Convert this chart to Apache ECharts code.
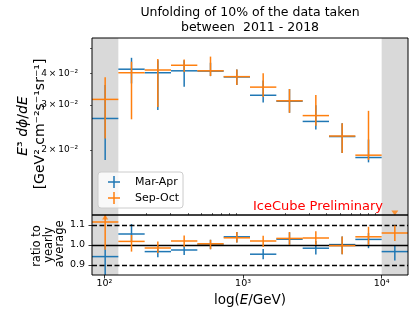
<!DOCTYPE html>
<html><head><meta charset="utf-8">
<script src="https://cdn.jsdelivr.net/npm/echarts@6.0.0/dist/echarts.min.js"></script>
<style>html,body{margin:0;padding:0;background:#fff}#c{width:415px;height:316px}</style>
</head><body><div id="c"></div>
<script>
// ---- data ----
const binLogEdges = [1.91, 2.10, 2.29, 2.48, 2.67, 2.86, 3.05, 3.24, 3.43, 3.62, 3.81, 4.00, 4.19]; // log10(E/GeV)
// E^3 dphi/dE  [GeV^2 cm^-2 s^-1 sr^-1]
const marApr   = [0.0266, 0.0415, 0.0402, 0.0409, 0.0408, 0.0387, 0.0328, 0.0311, 0.0259, 0.0226, 0.0187, null];
const marAprLo = [0.0183, 0.0365, 0.0287, 0.0354, 0.0390, 0.0360, 0.0307, 0.0280, 0.0241, 0.0195, 0.0179, null];
const marAprHi = [0.0360, 0.0460, 0.0450, 0.0450, 0.0440, 0.0414, 0.0375, 0.0347, 0.0300, 0.0255, 0.0220, null];
const sepOct   = [0.0316, 0.0402, 0.0412, 0.0430, 0.0409, 0.0388, 0.0353, 0.0312, 0.0273, 0.0227, 0.0191, null];
const sepOctLo = [0.0222, 0.0264, 0.0295, 0.0405, 0.0390, 0.0360, 0.0323, 0.0280, 0.0249, 0.0195, 0.0183, null];
const sepOctHi = [0.0386, 0.0444, 0.0455, 0.0453, 0.0465, 0.0414, 0.0400, 0.0347, 0.0329, 0.0255, 0.0285, null];
const sepOctLastFluxMarker = 0.01133;
// ratio to yearly average
const marAprRatio   = [0.942, 1.055, 0.967, 0.975, 1.003, 1.041, 0.954, 1.029, 0.984, 1.002, 1.028, 0.967];
const marAprRatioLo = [0.800, 1.020, 0.939, 0.950, 0.979, 1.013, 0.929, 1.001, 0.952, 0.954, 0.984, 0.922];
const marAprRatioHi = [1.000, 1.105, 1.000, 1.000, 1.026, 1.065, 0.980, 1.063, 1.020, 1.043, 1.060, 1.000];
const sepOctRatio   = [1.115, 1.018, 0.985, 1.020, 1.006, 1.036, 1.020, 1.033, 1.035, 0.997, 1.041, 1.060];
const sepOctRatioLo = [0.976, 0.967, 0.960, 0.990, 0.979, 1.013, 0.990, 1.001, 1.000, 0.954, 1.000, 1.020];
const sepOctRatioHi = [1.200, 1.050, 1.018, 1.047, 1.026, 1.065, 1.046, 1.065, 1.069, 1.043, 1.091, 1.097];
const sepOctUpArrowRatio = 1.14;
const refLines = [0.9, 1.0, 1.1];
// axes
const xMajorTicks = [100, 1000, 10000];
const xMajorLabels = ['10²', '10³', '10⁴'];
const xMinorTicks = [90, 200, 300, 400, 500, 600, 700, 800, 900, 2000, 3000, 4000, 5000, 6000, 7000, 8000, 9000];
const yTopRange = [0.01113, 0.0550];
const yTopTicks = [0.02, 0.03, 0.04, 0.05];
const yTopLabels = ['2\u2009×\u200910⁻²', '3\u2009×\u200910⁻²', '4\u2009×\u200910⁻²', ''];
const yBotRange = [0.85, 1.15];
const yBotTicks = [0.9, 1.0, 1.1];
const yBotLabels = ['0.9', '1.0', '1.1'];
const seriesNames = ['Mar-Apr', 'Sep-Oct'];
const colors = ['#1f77b4', '#ff7f0e'];

// ---- build ----
const FONT = 'DejaVu Sans';
const L = Math.log10;
const centers = binLogEdges.slice(0, -1).map((e, i) => (e + binLogEdges[i + 1]) / 2);
const xMin = binLogEdges[0], xMax = binLogEdges[binLogEdges.length - 1];
const topMin = L(yTopRange[0]), topMax = L(yTopRange[1]);

function buildErr(vals, lo, hi, tf, ymin, ymax) {
  const cl = v => Math.min(Math.max(tf(v), ymin), ymax);
  const out = [];
  vals.forEach((v, i) => {
    if (v == null) return;
    out.push([centers[i], binLogEdges[i], binLogEdges[i + 1], tf(v), cl(lo[i]), cl(hi[i])]);
  });
  return out;
}
function errSeries(name, color, data, gi, z) {
  return {
    name, type: 'custom', xAxisIndex: gi === 0 ? 0 : 1, yAxisIndex: gi, z,
    itemStyle: { color }, clip: true, silent: true,
    data,
    renderItem: (params, api) => {
      const xc = api.value(0), xl = api.value(1), xh = api.value(2);
      const y = api.value(3), yl = api.value(4), yh = api.value(5);
      const a = api.coord([xl, y]), b = api.coord([xh, y]);
      const t = api.coord([xc, yh]), d = api.coord([xc, yl]);
      const st = { stroke: color, lineWidth: 1.5, fill: null };
      return { type: 'group', children: [
        { type: 'line', shape: { x1: a[0], y1: a[1], x2: b[0], y2: b[1] }, style: st },
        { type: 'line', shape: { x1: t[0], y1: t[1], x2: d[0], y2: d[1] }, style: st }
      ]};
    }
  };
}
const grayAreas = [[{ xAxis: binLogEdges[0] }, { xAxis: binLogEdges[1] }],
                   [{ xAxis: binLogEdges[11] }, { xAxis: binLogEdges[12] }]];
function bandSeries(gi) {
  return { type: 'line', xAxisIndex: gi === 0 ? 0 : 1, yAxisIndex: gi, data: [], z: 1, silent: true,
    markArea: { silent: true, itemStyle: { color: '#d9d9d9' }, data: grayAreas } };
}
const tickStyle = { color: '#000', width: 0.8 };
const crossIcon = 'path://M0,5.25H5.25V0H6.75V5.25H12V6.75H6.75V12H5.25V6.75H0Z';

const GRID0 = { left: 92, top: 38, width: 316, height: 177 };
const GRID1 = { left: 92, top: 215, width: 316, height: 60 };

const option = {
  animation: false,
  textStyle: { fontFamily: FONT },
  grid: [GRID0, GRID1],
  legend: {
    left: 98, top: 172, orient: 'vertical', itemWidth: 12, itemHeight: 12, itemGap: 4,
    padding: [4, 4, 4, 10],
    backgroundColor: 'rgba(255,255,255,0.8)', borderColor: '#cccccc', borderWidth: 1, borderRadius: 3,
    textStyle: { fontFamily: FONT, fontSize: 11, color: '#000', padding: [0, 0, 0, 10] },
    data: seriesNames.map(n => ({ name: n, icon: crossIcon }))
  },
  xAxis: [
    { gridIndex: 0, type: 'value', min: xMin, max: xMax, axisLine: { show: false }, axisTick: { show: false },
      axisLabel: { show: false }, splitLine: { show: false } },
    { gridIndex: 1, type: 'value', min: xMin, max: xMax, axisLine: { show: false }, splitLine: { show: false },
      axisTick: { show: true, length: 3.5, lineStyle: tickStyle, customValues: xMajorTicks.map(L) },
      axisLabel: { customValues: xMajorTicks.map(L), margin: 4, fontSize: 9.5, color: '#000', fontFamily: FONT,
        formatter: v => xMajorLabels[xMajorTicks.findIndex(t => Math.abs(L(t) - v) < 1e-6)] || '' } },
    { gridIndex: 1, type: 'value', min: xMin, max: xMax, axisLine: { show: false }, splitLine: { show: false },
      axisTick: { show: true, length: 2, lineStyle: { color: '#000', width: 0.6 }, customValues: xMinorTicks.map(L) },
      axisLabel: { show: false } }
  ],
  yAxis: [
    { gridIndex: 0, type: 'value', min: topMin, max: topMax, axisLine: { show: false }, splitLine: { show: false },
      axisTick: { show: true, length: 2, lineStyle: { color: '#000', width: 0.6 }, customValues: yTopTicks.map(L) },
      axisLabel: { customValues: yTopTicks.slice(0, 3).map(L), margin: 14, fontSize: 9, color: '#000', fontFamily: FONT,
        formatter: v => yTopLabels[yTopTicks.findIndex(t => Math.abs(L(t) - v) < 1e-6)] || '' } },
    { gridIndex: 1, type: 'value', min: yBotRange[0], max: yBotRange[1], axisLine: { show: false }, splitLine: { show: false },
      axisTick: { show: true, length: 3.5, lineStyle: tickStyle, customValues: yBotTicks },
      axisLabel: { customValues: yBotTicks, margin: 7, fontSize: 9.5, color: '#000', fontFamily: FONT,
        formatter: v => yBotLabels[yBotTicks.findIndex(t => Math.abs(t - v) < 1e-6)] || '' } }
  ],
  series: [
    bandSeries(0), bandSeries(1),
    { type: 'line', xAxisIndex: 1, yAxisIndex: 1, data: [], z: 3, silent: true,
      markLine: { silent: true, symbol: 'none', label: { show: false },
        data: refLines.map(r => ({ yAxis: r, lineStyle: { color: '#000', width: 1.4, type: r === 1 ? 'solid' : [5, 2.5] } })) } },
    errSeries(seriesNames[0], colors[0], buildErr(marApr, marAprLo, marAprHi, L, topMin, topMax), 0, 4),
    errSeries(seriesNames[1], colors[1], buildErr(sepOct, sepOctLo, sepOctHi, L, topMin, topMax), 0, 5),
    errSeries(seriesNames[0], colors[0], buildErr(marAprRatio, marAprRatioLo, marAprRatioHi, v => v, yBotRange[0], yBotRange[1]), 1, 4),
    errSeries(seriesNames[1], colors[1], buildErr(sepOctRatio, sepOctRatioLo, sepOctRatioHi, v => v, yBotRange[0], yBotRange[1]), 1, 5),
    { type: 'scatter', xAxisIndex: 1, yAxisIndex: 1, z: 6, silent: true, symbol: 'triangle', symbolSize: [6, 5],
      itemStyle: { color: colors[1] }, data: [[centers[0], sepOctUpArrowRatio]] },
    { type: 'scatter', xAxisIndex: 0, yAxisIndex: 0, z: 6, silent: true, symbol: 'triangle', symbolRotate: 180, symbolSize: [7, 5],
      itemStyle: { color: colors[1] }, data: [[centers[11], L(sepOctLastFluxMarker)]] }
  ],
  graphic: [
    { type: 'rect', z: 100, silent: true, shape: { x: GRID0.left, y: GRID0.top, width: GRID0.width, height: GRID0.height },
      style: { fill: null, stroke: '#000', lineWidth: 1 } },
    { type: 'rect', z: 100, silent: true, shape: { x: GRID1.left, y: GRID1.top, width: GRID1.width, height: GRID1.height },
      style: { fill: null, stroke: '#000', lineWidth: 1 } },
    { type: 'text', x: 250, y: 13, style: { text: 'Unfolding of 10% of the data taken', fill: '#000',
      font: '12.5px "DejaVu Sans"', textAlign: 'center', textVerticalAlign: 'middle' } },
    { type: 'text', x: 250, y: 28, style: { text: 'between  2011 - 2018', fill: '#000',
      font: '12.5px "DejaVu Sans"', textAlign: 'center', textVerticalAlign: 'middle' } },
    { type: 'text', x: 23, y: 126, rotation: Math.PI / 2, style: { text: '{it|E}³ {it|dϕ}/{it|dE}', fill: '#000',
      font: '14px "DejaVu Sans"', textAlign: 'center', textVerticalAlign: 'middle',
      rich: { it: { fontStyle: 'italic', fontSize: 14, fontFamily: FONT } } } },
    { type: 'text', x: 40, y: 124, rotation: Math.PI / 2, style: { text: '[GeV² cm⁻²s⁻¹sr⁻¹]', fill: '#000',
      font: '14px "DejaVu Sans"', textAlign: 'center', textVerticalAlign: 'middle' } },
    { type: 'text', x: 37, y: 246, rotation: Math.PI / 2, style: { text: 'ratio to', fill: '#000',
      font: '11.5px "DejaVu Sans"', textAlign: 'center', textVerticalAlign: 'middle' } },
    { type: 'text', x: 49, y: 245, rotation: Math.PI / 2, style: { text: 'yearly', fill: '#000',
      font: '11.5px "DejaVu Sans"', textAlign: 'center', textVerticalAlign: 'middle' } },
    { type: 'text', x: 60, y: 244, rotation: Math.PI / 2, style: { text: 'average', fill: '#000',
      font: '11.5px "DejaVu Sans"', textAlign: 'center', textVerticalAlign: 'middle' } },
    { type: 'text', x: 250, y: 300, style: { text: 'log({it|E}/GeV)', fill: '#000',
      font: '13.5px "DejaVu Sans"', textAlign: 'center', textVerticalAlign: 'middle',
      rich: { it: { fontStyle: 'italic', fontSize: 13.5, fontFamily: FONT } } } },
    { type: 'text', x: 383, y: 207, z: 50, style: { text: 'IceCube Preliminary', fill: '#ff0000',
      font: '13px "DejaVu Sans"', textAlign: 'right', textVerticalAlign: 'middle' } }
  ]
};
const chart = echarts.init(document.getElementById('c'), null, { renderer: 'canvas' });
chart.setOption(option);
</script>
</body></html>
